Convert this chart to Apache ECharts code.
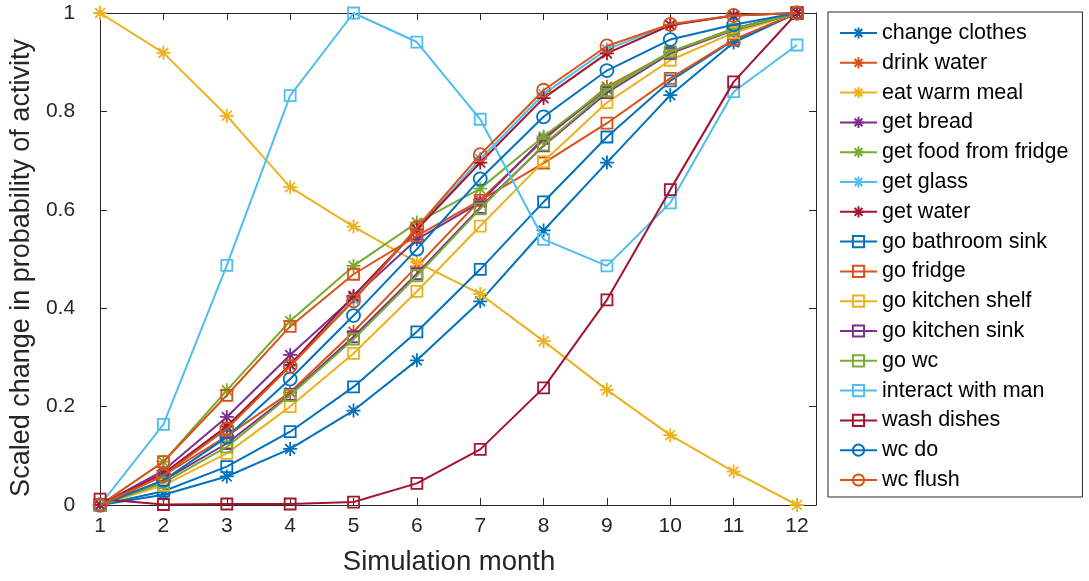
<!DOCTYPE html>
<html>
<head>
<meta charset="utf-8">
<script src="https://cdn.jsdelivr.net/npm/echarts@6/dist/echarts.min.js"></script>
<style>
  html, body { margin: 0; padding: 0; background: #ffffff; }
  #chart { width: 1089px; height: 581px; }
</style>
</head>
<body>
<div id="chart"></div>
<script>
// Simulation months on the x axis
const months = [1, 2, 3, 4, 5, 6, 7, 8, 9, 10, 11, 12];
const yTicks = [0, 0.2, 0.4, 0.6, 0.8, 1];

// Scaled change in probability of each activity, one value per month
const changeClothes     = [0, 0.021, 0.058, 0.114, 0.192, 0.294, 0.414, 0.558, 0.696, 0.833, 0.940, 1];
const drinkWater        = [0, 0.060, 0.140, 0.229, 0.352, 0.485, 0.620, 0.742, 0.850, 0.920, 0.968, 1];
const eatWarmMeal       = [1, 0.919, 0.791, 0.646, 0.566, 0.493, 0.429, 0.333, 0.234, 0.142, 0.068, 0];
const getBread          = [0, 0.070, 0.179, 0.305, 0.422, 0.540, 0.615, 0.745, 0.845, 0.920, 0.968, 1];
const getFoodFromFridge = [0, 0.088, 0.233, 0.374, 0.486, 0.574, 0.643, 0.749, 0.847, 0.921, 0.968, 1];
const getGlass          = [0, 0.062, 0.158, 0.283, 0.418, 0.560, 0.703, 0.835, 0.926, 0.976, 0.995, 1];
const getWater          = [0, 0.064, 0.160, 0.285, 0.425, 0.560, 0.696, 0.827, 0.918, 0.975, 0.995, 1];
const goBathroomSink    = [0, 0.028, 0.078, 0.149, 0.240, 0.352, 0.479, 0.616, 0.748, 0.862, 0.945, 1];
const goFridge          = [0, 0.088, 0.223, 0.363, 0.469, 0.547, 0.619, 0.695, 0.776, 0.867, 0.946, 1];
const goKitchenShelf    = [0, 0.040, 0.105, 0.200, 0.308, 0.434, 0.567, 0.698, 0.818, 0.904, 0.960, 1];
const goKitchenSink     = [0, 0.050, 0.125, 0.225, 0.342, 0.470, 0.605, 0.730, 0.838, 0.918, 0.965, 1];
const goWc              = [0, 0.045, 0.118, 0.223, 0.337, 0.466, 0.602, 0.732, 0.842, 0.921, 0.966, 1];
const interactWithMan   = [0, 0.164, 0.487, 0.832, 1, 0.941, 0.784, 0.540, 0.486, 0.614, 0.840, 0.935];
const washDishes        = [0.012, 0.001, 0.002, 0.002, 0.006, 0.044, 0.113, 0.238, 0.417, 0.641, 0.860, 1];
const wcDo              = [0, 0.050, 0.138, 0.256, 0.385, 0.520, 0.663, 0.789, 0.883, 0.946, 0.976, 1];
const wcFlush           = [0, 0.060, 0.155, 0.282, 0.415, 0.564, 0.712, 0.843, 0.933, 0.977, 0.995, 1];

const activityNames = [
  'change clothes', 'drink water', 'eat warm meal', 'get bread', 'get food from fridge',
  'get glass', 'get water', 'go bathroom sink', 'go fridge', 'go kitchen shelf',
  'go kitchen sink', 'go wc', 'interact with man', 'wash dishes', 'wc do', 'wc flush'
];
const activityValues = [
  changeClothes, drinkWater, eatWarmMeal, getBread, getFoodFromFridge,
  getGlass, getWater, goBathroomSink, goFridge, goKitchenShelf,
  goKitchenSink, goWc, interactWithMan, washDishes, wcDo, wcFlush
];

// Colour order cycles through seven colours; marker changes after each cycle
const palette = ['#0072BD', '#D95319', '#EDB120', '#7E2F8E', '#77AC30', '#4DBEEE', '#A2142F'];
const ASTERISK = 'path://M0,-1L0,1M-1,0L1,0M-0.7,-0.7L0.7,0.7M-0.7,0.7L0.7,-0.7';
const SQUARE = 'path://M0,0L1,0L1,1L0,1Z';
const CIRCLE = 'path://M1,0A1,1,0,1,1,-1,0A1,1,0,1,1,1,0Z';
const markerCycle = [
  { symbol: ASTERISK, size: 14 },
  { symbol: SQUARE, size: 11 },
  { symbol: CIRCLE, size: 13 }
];

const FONT = '"Liberation Sans", Arial, Helvetica, sans-serif';
const AXIS_COLOR = '#262626';

const series = activityNames.map((name, i) => {
  const color = palette[i % palette.length];
  const marker = markerCycle[Math.floor(i / palette.length)];
  return {
    name: name,
    type: 'line',
    data: months.map((m, j) => [m, activityValues[i][j]]),
    symbol: marker.symbol,
    symbolSize: marker.size,
    showAllSymbol: true,
    lineStyle: { color: color, width: 2 },
    itemStyle: { color: 'rgba(0,0,0,0)', borderColor: color, borderWidth: 1.8 },
    emphasis: { disabled: true },
    z: 2 + i * 0.01
  };
});

const tickStyle = { inside: true, length: 7, lineStyle: { color: AXIS_COLOR, width: 1 } };
const lineStyleAxis = { show: true, onZero: false, lineStyle: { color: AXIS_COLOR, width: 1 } };

const option = {
  animation: false,
  backgroundColor: '#ffffff',
  textStyle: { fontFamily: FONT },
  grid: { left: 99, top: 13, width: 717, height: 494 },
  xAxis: [
    {
      type: 'value', position: 'bottom', min: 1, max: 12.3, interval: 1,
      axisLine: lineStyleAxis, axisTick: tickStyle, splitLine: { show: false },
      axisLabel: {
        color: AXIS_COLOR, fontSize: 21, fontFamily: FONT, margin: 11,
        showMaxLabel: false,
        formatter: v => (months.indexOf(v) >= 0 ? String(v) : '')
      },
      name: 'Simulation month', nameLocation: 'middle', nameGap: 43,
      nameTextStyle: { color: AXIS_COLOR, fontSize: 27.5, fontFamily: FONT, padding: [0, 18, 0, 0] }
    },
    {
      type: 'value', position: 'top', min: 1, max: 12.3, interval: 1,
      axisLine: lineStyleAxis, axisTick: tickStyle, splitLine: { show: false },
      axisLabel: { show: false }
    }
  ],
  yAxis: [
    {
      type: 'value', position: 'left', min: 0, max: 1, interval: 0.2,
      axisLine: lineStyleAxis, axisTick: tickStyle, splitLine: { show: false },
      axisLabel: {
        color: AXIS_COLOR, fontSize: 21, fontFamily: FONT, margin: 25,
        formatter: v => {
          const t = yTicks.find(k => Math.abs(k - v) < 1e-9);
          return t === undefined ? '' : String(t);
        }
      },
      name: 'Scaled change in probability of activity', nameLocation: 'middle', nameGap: 62,
      nameRotate: 90,
      nameTextStyle: { color: AXIS_COLOR, fontSize: 27, fontFamily: FONT, padding: [0, 18, 0, 0] }
    },
    {
      type: 'value', position: 'right', min: 0, max: 1, interval: 0.2,
      axisLine: lineStyleAxis, axisTick: tickStyle, splitLine: { show: false },
      axisLabel: { show: false }
    }
  ],
  legend: {
    orient: 'vertical',
    left: 828, top: 12,
    padding: [10, 14, 6, 11],
    itemGap: 7.8,
    itemWidth: 37,
    itemHeight: 14,
    selectedMode: false,
    borderColor: AXIS_COLOR,
    borderWidth: 1,
    backgroundColor: '#ffffff',
    textStyle: { color: '#000000', fontSize: 21.5, lineHeight: 20, fontFamily: FONT },
    data: activityNames
  },
  series: series
};

const chart = echarts.init(document.getElementById('chart'), null, { renderer: 'canvas' });
chart.setOption(option);
</script>
</body>
</html>
